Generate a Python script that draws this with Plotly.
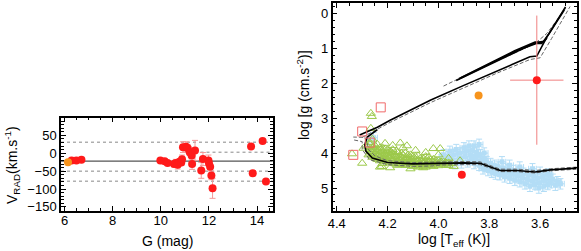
import plotly.graph_objects as go

FONT = "Liberation Sans, Arial, Helvetica, sans-serif"

# ---------------- Left panel: V_RAD vs G ----------------
g_orange = [6.14]
v_orange = [-25]

g_red = [6.29, 6.49, 6.70, 9.98, 10.16, 10.28, 10.55, 10.62, 10.70, 10.77, 10.85, 10.88,
         10.92, 11.05, 11.12, 11.20, 11.28, 11.30, 11.42, 11.68, 11.75, 11.98, 12.00,
         12.05, 12.10, 12.15, 13.75, 14.23, 13.82, 14.37]
v_red = [-20, -20, -18, -20, -22, -27, -30, -27, -32, -24, -26, -17,
         17, 18, 14, 3, -6, -30, 8, -48, -16, -20, -28,
         -38, -62, -98, 19, 34, -56, -79]
v_err = [0, 0, 0, 3, 3, 5, 8, 10, 12, 5, 8, 12,
         15, 14, 10, 8, 10, 15, 28, 22, 18, 15, 10,
         8, 12, 28, 3, 3, 7, 4]

mean_line = [-22]
sigma_lines_full = [31, -50, -78]
sigma_line_part = [3]

# ---------------- Right panel: Kiel diagram ----------------
ms_x = [3.456, 3.50, 3.56, 3.62, 3.66, 3.69, 3.757, 3.80, 3.836, 3.90, 3.99, 4.03, 4.10,
        4.20, 4.26, 4.285, 4.29, 4.28, 4.24]
ms_y = [4.43, 4.45, 4.48, 4.54, 4.52, 4.50, 4.50, 4.38, 4.29, 4.28, 4.29, 4.31, 4.31,
        4.27, 4.14, 3.95, 3.76, 3.54, 3.33]

ms_dash_up_x = [3.456, 3.50, 3.56, 3.62, 3.66, 3.69, 3.757, 3.80, 3.836, 3.90, 3.99, 4.03,
                4.10, 4.20, 4.25, 4.275, 4.28, 4.29, 4.335]
ms_dash_up_y = [4.40, 4.42, 4.45, 4.50, 4.48, 4.46, 4.46, 4.34, 4.25, 4.24, 4.25, 4.27,
                4.27, 4.22, 4.08, 3.90, 3.72, 3.55, 3.54]
ms_dash_lo_x = [3.456, 3.50, 3.56, 3.62, 3.66, 3.69, 3.757, 3.80, 3.836, 3.90, 3.99, 4.03,
                4.10, 4.20, 4.27, 4.30, 4.30, 4.335]
ms_dash_lo_y = [4.46, 4.48, 4.51, 4.57, 4.55, 4.53, 4.53, 4.42, 4.33, 4.33, 4.34, 4.37,
                4.38, 4.33, 4.19, 3.90, 3.67, 3.62]

ub_x = [4.31, 4.24, 4.19, 4.03, 3.90, 3.77, 3.64, 3.613, 3.573, 3.50]
ub_y = [3.48, 3.26, 3.06, 2.48, 2.06, 1.65, 1.24, 1.22, 0.67, -0.19]
ub_dash_lo_x = [4.30, 4.19, 4.03, 3.90, 3.77, 3.64, 3.60, 3.555, 3.482]
ub_dash_lo_y = [3.55, 3.12, 2.55, 2.12, 1.71, 1.32, 1.27, 0.72, -0.20]
ub_dash_up_x = [3.98, 3.85, 3.72, 3.62, 3.573, 3.495]
ub_dash_up_y = [2.08, 1.62, 1.20, 0.86, 0.57, -0.19]

b1_x = [3.93, 3.80, 3.70, 3.62, 3.585, 3.573]
b1_y = [1.92, 1.47, 1.11, 0.84, 0.80, 0.70]
b2_x = [3.92, 3.80, 3.70, 3.62, 3.59, 3.565, 3.505]
b2_y = [1.87, 1.43, 1.07, 0.82, 0.83, 0.58, -0.10]
b3_x = [3.91, 3.80, 3.70, 3.615, 3.59]
b3_y = [1.84, 1.45, 1.09, 0.86, 0.86]

tri_x = [4.266, 4.262, 4.266, 4.295, 4.223, 4.30, 4.34, 4.15, 4.124, 4.02, 3.993, 3.915,
         4.28, 4.275, 4.27, 4.265, 4.26, 4.255, 4.25, 4.245, 4.24, 4.235, 4.23, 4.225,
         4.22, 4.215, 4.21, 4.205, 4.20, 4.195, 4.19, 4.185, 4.18, 4.175, 4.17, 4.165,
         4.16, 4.155, 4.15, 4.145, 4.14, 4.13, 4.125, 4.12, 4.11, 4.105, 4.10, 4.09,
         4.085, 4.08, 4.07, 4.065, 4.06, 4.05, 4.045, 4.04, 4.03, 4.025, 4.02, 4.01,
         4.00, 3.99, 3.98, 3.97, 3.96, 3.95, 4.26, 4.24, 4.21, 4.18, 4.14, 4.09, 4.05,
         4.00, 3.96, 4.23, 4.19, 4.11, 4.06, 3.94,
         4.27, 4.27, 4.27, 4.26, 4.26, 4.26, 4.25, 4.25, 4.25, 4.24, 4.24, 4.24,
         4.23, 4.23, 4.23, 4.22, 4.22, 4.22, 4.22, 4.21, 4.21, 4.21, 4.20, 4.20, 4.20,
         4.19, 4.19, 4.19, 4.18, 4.18, 4.18, 4.17, 4.17, 4.17, 4.16, 4.16, 4.16,
         4.15, 4.15, 4.15, 4.14, 4.14, 4.14, 4.13, 4.13, 4.13, 4.12, 4.12, 4.12,
         4.11, 4.11, 4.11, 4.10, 4.10, 4.10, 4.09, 4.09, 4.09, 4.08, 4.08, 4.08,
         4.07, 4.07, 4.07, 4.06, 4.06, 4.05, 4.05, 4.05, 4.04, 4.04, 4.03, 4.03,
         4.02, 4.02, 4.01, 4.01, 4.00, 4.00, 3.99, 3.98, 3.97, 3.96]
tri_y = [2.86, 2.95, 3.29, 3.86, 4.38, 4.29, 4.02, 3.71, 3.79, 3.87, 3.87, 4.22,
         3.80, 4.05, 3.70, 3.95, 4.12, 3.82, 4.00, 4.15, 3.88, 4.08, 4.22, 3.95,
         3.85, 4.18, 4.02, 4.25, 3.92, 4.10, 4.28, 3.98, 4.15, 4.30, 4.05, 3.95,
         4.22, 4.32, 4.08, 4.00, 4.25, 4.35, 4.12, 4.05, 4.28, 4.18, 4.38, 4.10,
         4.22, 4.32, 4.15, 4.25, 4.38, 4.20, 4.30, 4.12, 4.35, 4.25, 4.18, 4.32,
         4.22, 4.30, 4.25, 4.35, 4.28, 4.30, 3.60, 3.75, 3.72, 3.78, 3.85, 3.92, 3.98,
         4.05, 4.15, 4.40, 4.42, 4.45, 4.42, 4.38,
         3.90, 4.00, 3.75, 3.85, 4.05, 3.95, 3.90, 4.10, 3.78, 3.95, 4.05, 4.18,
         3.85, 4.00, 4.10, 3.92, 4.05, 4.15, 4.30, 3.88, 4.12, 4.20, 4.00, 4.08, 4.18,
         3.95, 4.05, 4.15, 3.90, 4.00, 4.22, 4.10, 4.18, 4.28, 3.98, 4.12, 4.35,
         4.15, 4.22, 4.30, 4.05, 4.15, 4.32, 4.00, 4.20, 4.28, 4.15, 4.22, 4.35,
         4.05, 4.12, 4.20, 4.10, 4.25, 4.30, 4.18, 4.25, 4.35, 4.08, 4.20, 4.40,
         4.22, 4.30, 4.35, 4.15, 4.28, 4.10, 4.32, 4.40, 4.22, 4.35, 4.18, 4.28,
         4.25, 4.38, 4.22, 4.28, 4.30, 4.36, 4.25, 4.32, 4.28, 4.35]

blue_x = [3.99, 3.98, 3.97, 3.96, 3.955, 3.95, 3.94, 3.935, 3.93, 3.92, 3.915, 3.91,
          3.90, 3.895, 3.89, 3.885, 3.88, 3.875, 3.87, 3.865, 3.86, 3.855, 3.85, 3.845,
          3.84, 3.835, 3.83, 3.825, 3.82, 3.815, 3.81, 3.805, 3.80, 3.795, 3.79, 3.785,
          3.78, 3.775, 3.77, 3.765, 3.76, 3.75, 3.745, 3.74, 3.73, 3.725, 3.72, 3.71,
          3.705, 3.70, 3.69, 3.685, 3.68, 3.67, 3.665, 3.66, 3.65, 3.645, 3.64, 3.63,
          3.625, 3.62, 3.61, 3.605, 3.60, 3.59, 3.585, 3.58, 3.57, 3.565, 3.56, 3.55,
          3.54, 3.53, 3.52, 3.86, 3.84, 3.82, 3.75, 3.72, 3.68, 3.63, 3.60, 3.57, 4.27,
          4.255]
blue_y = [4.20, 4.05, 4.25, 4.10, 3.95, 4.22, 4.05, 4.30, 3.90, 4.15, 4.00, 4.28,
          3.85, 4.10, 3.95, 4.25, 3.80, 4.05, 4.18, 3.92, 4.30, 4.10, 3.98, 4.22,
          4.35, 4.05, 4.28, 4.45, 4.15, 4.38, 4.25, 4.50, 4.40, 4.30, 4.55, 4.45,
          4.35, 4.60, 4.48, 4.40, 4.62, 4.52, 4.45, 4.68, 4.55, 4.48, 4.72, 4.60,
          4.50, 4.78, 4.65, 4.55, 4.82, 4.70, 4.58, 4.88, 4.75, 4.62, 4.95, 4.80,
          4.65, 4.90, 4.72, 5.00, 4.85, 4.68, 4.95, 4.78, 4.90, 4.62, 4.85, 4.75,
          4.92, 4.82, 4.88, 3.80, 3.75, 4.00, 4.25, 4.35, 4.40, 4.45, 4.55, 4.60, 3.60,
          3.56]

sq_x = [4.227, 4.30, 4.27, 4.335]
sq_y = [2.69, 3.38, 3.70, 4.05]

orange_x = [3.842]
orange_y = [2.35]

red_big_x = [3.613]
red_big_y = [1.91]
red_big_xerr = [0.105]
red_big_yerr = [1.85]

red_small_x = [3.908]
red_small_y = [4.62]

fig = go.Figure()

# left panel traces
fig.add_trace(go.Scatter(x=g_red, y=v_red, mode="markers",
                         marker=dict(color="#ff1a1a", size=8),
                         error_y=dict(type="data", array=v_err, color="#f59a9a",
                                      thickness=1, width=3),
                         xaxis="x", yaxis="y", showlegend=False))
fig.add_trace(go.Scatter(x=g_orange, y=v_orange, mode="markers",
                         marker=dict(color="#f7941d", size=8),
                         xaxis="x", yaxis="y", showlegend=False))

shapes = []
for v in mean_line:
    shapes.append(dict(type="line", xref="x domain", yref="y", x0=0, x1=1, y0=v, y1=v,
                       line=dict(color="#555555", width=1.3), layer="below"))
for v in sigma_lines_full:
    shapes.append(dict(type="line", xref="x domain", yref="y", x0=0, x1=1, y0=v, y1=v,
                       line=dict(color="#888888", width=1, dash="dot"), layer="below"))
for v in sigma_line_part:
    shapes.append(dict(type="line", xref="x", yref="y", x0=11.4, x1=14.65, y0=v, y1=v,
                       line=dict(color="#888888", width=1, dash="dot"), layer="below"))

# right panel traces
fig.add_trace(go.Scatter(x=blue_x, y=blue_y, mode="markers",
                         marker=dict(color="#b3ddf6", size=5, symbol="square"),
                         error_y=dict(type="constant", value=0.15, color="#b3ddf6",
                                      thickness=1, width=3),
                         error_x=dict(type="constant", value=0.015, color="#b3ddf6",
                                      thickness=1, width=3),
                         xaxis="x2", yaxis="y2", showlegend=False))
fig.add_trace(go.Scatter(x=tri_x, y=tri_y, mode="markers",
                         marker=dict(symbol="triangle-up-open", color="#9cc94a", size=8,
                                     line=dict(width=1)),
                         xaxis="x2", yaxis="y2", showlegend=False))

dash_style = dict(color="#666666", width=1, dash="4px,2px")
for xs, ys in [(ms_dash_up_x, ms_dash_up_y), (ms_dash_lo_x, ms_dash_lo_y),
               (ub_dash_lo_x, ub_dash_lo_y), (ub_dash_up_x, ub_dash_up_y)]:
    fig.add_trace(go.Scatter(x=xs, y=ys, mode="lines", line=dash_style,
                             xaxis="x2", yaxis="y2", showlegend=False))
for xs, ys in [(ms_x, ms_y), (ub_x, ub_y), (b1_x, b1_y), (b2_x, b2_y), (b3_x, b3_y)]:
    fig.add_trace(go.Scatter(x=xs, y=ys, mode="lines",
                             line=dict(color="black", width=1.6),
                             xaxis="x2", yaxis="y2", showlegend=False))

fig.add_trace(go.Scatter(x=sq_x, y=sq_y, mode="markers",
                         marker=dict(symbol="square-open", color="#f06a6a", size=9,
                                     line=dict(width=1)),
                         xaxis="x2", yaxis="y2", showlegend=False))
fig.add_trace(go.Scatter(x=orange_x, y=orange_y, mode="markers",
                         marker=dict(color="#f7941d", size=8),
                         xaxis="x2", yaxis="y2", showlegend=False))
fig.add_trace(go.Scatter(x=red_big_x, y=red_big_y, mode="markers",
                         marker=dict(color="#ff1a1a", size=8),
                         error_y=dict(type="data", array=red_big_yerr, color="#f08080",
                                      thickness=1, width=0),
                         error_x=dict(type="data", array=red_big_xerr, color="#f08080",
                                      thickness=1, width=0),
                         xaxis="x2", yaxis="y2", showlegend=False))
fig.add_trace(go.Scatter(x=red_small_x, y=red_small_y, mode="markers",
                         marker=dict(color="#ff1a1a", size=8),
                         xaxis="x2", yaxis="y2", showlegend=False))

axis_common = dict(showline=True, linecolor="black", linewidth=1.5, mirror="allticks",
                   ticks="inside", ticklen=5, tickwidth=1, tickcolor="black",
                   showgrid=False, zeroline=False, automargin=False,
                   tickfont=dict(family=FONT, size=13, color="black"))

title_font = dict(family=FONT, size=14, color="black")

fig.update_layout(
    width=581, height=251,
    margin=dict(l=0, r=0, t=0, b=0, autoexpand=False),
    paper_bgcolor="white", plot_bgcolor="white",
    font=dict(family=FONT, size=13, color="black"),
    xaxis=dict(domain=[61 / 581, 272.7 / 581], anchor="y", range=[5.85, 14.65],
               tickvals=[6, 8, 10, 12, 14], ticklabelstandoff=-3,
               minor=dict(ticks="inside", ticklen=3, dtick=0.5, tickcolor="black"),
               **axis_common),
    yaxis=dict(domain=[(251 - 210.5) / 251, (251 - 117.5) / 251], anchor="x",
               range=[-160, 100], tickvals=[50, 0, -50, -100, -150],
               minor=dict(ticks="inside", ticklen=3, dtick=10, tickcolor="black"),
               **axis_common),
    xaxis2=dict(domain=[332.7 / 581, 576.7 / 581], anchor="y2", range=[4.416, 3.456],
                tickvals=[4.4, 4.2, 4.0, 3.8, 3.6],
                ticktext=["4.4", "4.2", "4.0", "3.8", "3.6"],
                minor=dict(ticks="inside", ticklen=3, dtick=0.05, tickcolor="black"),
                **axis_common),
    yaxis2=dict(domain=[(251 - 210.7) / 251, (251 - 3) / 251], anchor="x2",
                range=[5.65, -0.3], tickvals=[0, 1, 2, 3, 4, 5],
                minor=dict(ticks="inside", ticklen=3, dtick=0.2, tickcolor="black"),
                **axis_common),
    shapes=shapes,
    annotations=[
        dict(text="V<sub>RAD</sub>(km.s<sup>-1</sup>)", textangle=-90, xref="paper",
             yref="paper", x=12 / 581, y=(251 - 165) / 251, showarrow=False,
             xanchor="center", yanchor="middle", font=title_font),
        dict(text="G (mag)", xref="paper", yref="paper", x=167 / 581,
             y=(251 - 241) / 251, showarrow=False, xanchor="center", yanchor="middle",
             font=title_font),
        dict(text="log [g (cm.s<sup>-2</sup>)]", textangle=-90, xref="paper",
             yref="paper", x=303 / 581, y=(251 - 95) / 251, showarrow=False,
             xanchor="center", yanchor="middle", font=title_font),
        dict(text="log [T<sub>eff</sub> (K)]", xref="paper", yref="paper", x=454 / 581,
             y=(251 - 240) / 251, showarrow=False, xanchor="center", yanchor="middle",
             font=title_font),
    ],
)

fig.write_html("out.html", config={"displayModeBar": False},
               post_script="document.body.style.margin='0';document.body.style.overflow='hidden';")
